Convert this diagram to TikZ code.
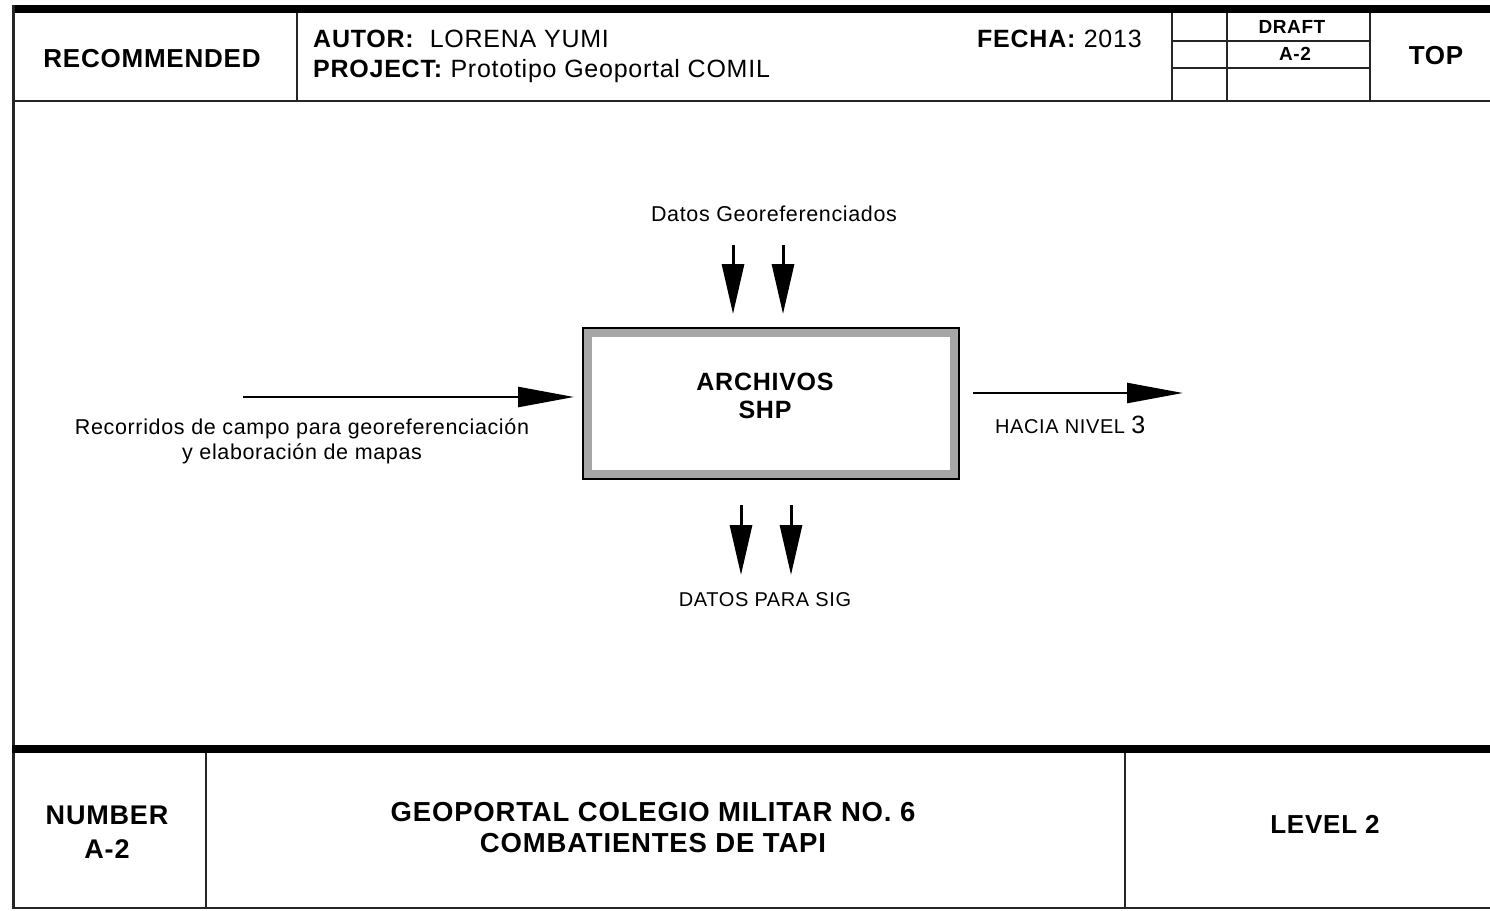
\documentclass[tikz,border=0pt]{standalone}
\usepackage{fontspec}
\setmainfont[LetterSpace=3]{Liberation Sans}
\usetikzlibrary{arrows.meta}

\begin{document}
\begin{tikzpicture}[x=1pt, y=-1pt,
        marco/.style={black!85, line width=2.5pt},
        grueso/.style={line width=8pt},
        flecha/.style={-{Triangle[length=50pt, width=22pt]}, line width=3pt},
        flechah/.style={-{Triangle[length=56pt, width=20pt]}, line width=2.5pt},
        titulo/.style={font=\fontsize{26}{28}\selectfont\bfseries, inner sep=0pt, align=center},
        dato/.style={font=\fontsize{25}{28}\selectfont, inner sep=0pt},
        etiqueta/.style={font=\fontsize{20}{25}\selectfont, inner sep=0pt, align=center},
        pie/.style={font=\fontsize{27}{34}\selectfont\bfseries, inner sep=0pt, align=center}]
        \useasboundingbox (0,0) rectangle (1490,910);

        \draw[grueso] (12,9) -- (1490,9);
        \draw[marco] (13.5,5) -- (13.5,909);
        \draw[marco] (13.5,101) -- (1490,101);
        \foreach \x in {297,1172,1227,1370}
            \draw[marco] (\x,13) -- (\x,101);
        \foreach \y in {41,68}
            \draw[marco] (1172,\y) -- (1370,\y);
        \draw[grueso] (12,749) -- (1490,749);
        \foreach \x in {206,1125}
            \draw[marco] (\x,753) -- (\x,908);
        \draw[marco] (13.5,908) -- (1490,908);

        \node[titulo] (recomendado) at (152,59) {RECOMMENDED};
        \node[dato, anchor=base west] (autor) at (313,47) {\textbf{AUTOR:}\ \ LORENA YUMI};
        \node[dato, anchor=base west] (proyecto) at (313,77) {\textbf{PROJECT:} Prototipo Geoportal COMIL};
        \node[dato, anchor=base west] (fecha) at (977,47) {\textbf{FECHA:} 2013};
        \node[titulo, font=\fontsize{19}{20}\selectfont\bfseries] (borrador) at (1292,27) {DRAFT};
        \node[titulo, font=\fontsize{19}{20}\selectfont\bfseries] (codigo) at (1295,54) {A-2};
        \node[titulo] (tope) at (1436,56) {TOP};

        \node[draw, line width=4pt, minimum width=374pt, minimum height=149pt] (archivos) at (771,403.5) {};
        \draw[gray!70, line width=8pt] ([xshift=6pt, yshift=-6pt]archivos.north west) rectangle ([xshift=-6pt, yshift=6pt]archivos.south east);
        \node[titulo, font=\fontsize{25}{28}\selectfont\bfseries] (nombre) at (765,396) {ARCHIVOS\\SHP};

        \coordinate (entrada) at (243,397);
        \draw[flechah, shorten >=8pt] (entrada) -- (entrada -| archivos.west);
        \coordinate (salida) at (1183,393);
        \draw[flechah, shorten <=13pt] (archivos.east |- salida) -- (salida);
        \foreach \x [count=\i] in {733,783} {
            \coordinate (control\i) at (\x,245);
            \draw[flecha, shorten >=13pt] (control\i) -- (control\i |- archivos.north);
        }
        \foreach \x [count=\i] in {741,791} {
            \coordinate (abajo\i) at (\x,575);
            \draw[flecha, shorten <=25pt] (abajo\i |- archivos.south) -- (abajo\i);
        }

        \node[etiqueta, font=\fontsize{21.5}{25}\selectfont] (datosgeo) at (774,214) {Datos Georeferenciados};
        \node[etiqueta, font=\fontsize{21.5}{25}\selectfont] (recorridos) at (302,441) {Recorridos de campo para georeferenciación\\y elaboración de mapas};
        \node[etiqueta, anchor=west] (hacia) at (995,425) {HACIA NIVEL {\fontsize{25}{25}\selectfont 3}};
        \node[etiqueta] (datossig) at (765,600) {DATOS PARA SIG};

        \node[pie] (numero) at (107,832) {NUMBER\\A-2};
        \node[pie, font=\fontsize{27.5}{31}\selectfont\bfseries] (geoportal) at (653,828) {GEOPORTAL COLEGIO MILITAR NO. 6\\COMBATIENTES DE TAPI};
        \node[pie, font=\fontsize{26}{28}\selectfont\bfseries] (nivel) at (1325,824) {LEVEL 2};
    \end{tikzpicture}
\end{document}
